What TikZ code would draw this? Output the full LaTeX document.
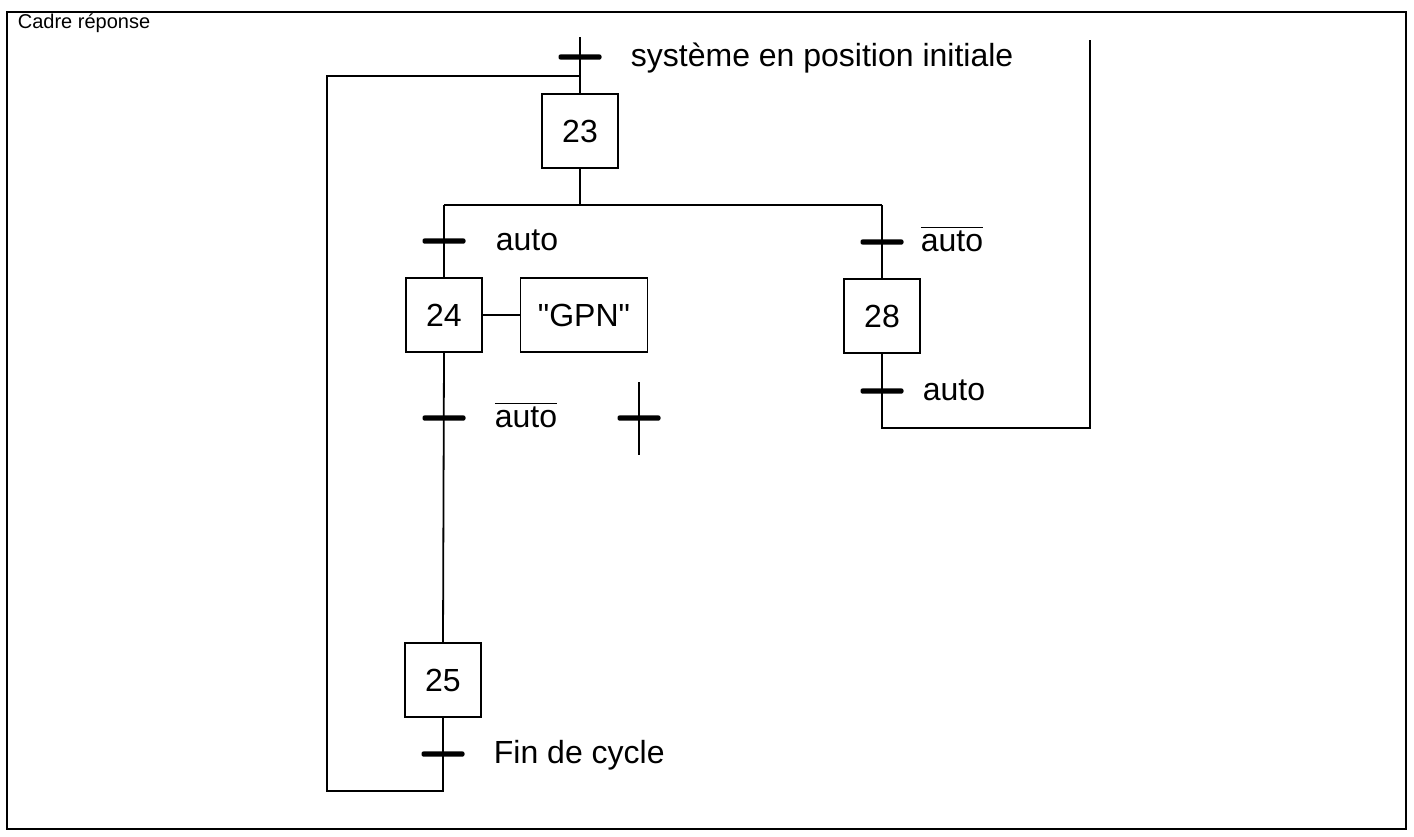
\documentclass[tikz,border=0pt]{standalone}
\usepackage{fontspec}
\setmainfont{Liberation Sans}
\newfontfamily\gpnfont{Liberation Sans}
\usepackage{tikz}

\tikzset{
    etape/.style={draw, line width=0.9pt, minimum width=38pt, minimum height=37pt, inner sep=0pt, font=\fontsize{16}{18}\selectfont},
    action/.style={etape, minimum width=63.5pt},
    transbar/.style={fill=black, rounded corners=1pt, minimum width=21.5pt, minimum height=2.6pt, inner sep=0pt},
    recept/.style={anchor=base west, inner sep=0pt, font=\fontsize{16}{18}\selectfont}
}

\begin{document}
\begin{tikzpicture}[x=0.5pt, y=-0.5pt, line width=0.9pt]
    \useasboundingbox (0, 0) rectangle (1414, 836);
    \draw[line width=0.8pt] (7, 12) rectangle (1406, 829);
    \node[anchor=west, inner sep=0pt, font=\fontsize{10}{12}\selectfont] (cadre) at (17, 23) {Cadre réponse};

    \node[etape] (e23) at (580, 131) {23};
    \node[etape] (e24) at (444, 315) {24};
    \node[action] (gpn) at (584, 315) {\gpnfont "GPN"};
    \node[etape] (e25) at (443, 680) {25};
    \node[etape] (e28) at (882, 316) {28};

    \coordinate (haut) at (580, 37);
    \coordinate (div) at (580, 205);
    \coordinate (entree) at (580, 76);
    \coordinate (retg) at (327, 791);
    \coordinate (retd) at (1090, 428);
    \coordinate (retdhaut) at (1090, 40);
    \coordinate (libreh) at (639, 382);
    \coordinate (libreb) at (639, 455);

    \draw (haut) -- (e23.north);
    \draw (e23.south) -- (div);
    \draw (e24.north |- div) -- (e28.north |- div);
    \draw (e24.north |- div) -- (e24.north);
    \draw (e28.north |- div) -- (e28.north);
    \draw (e24.east) -- (gpn.west);
    \draw (e24.south) -- (e25.north);
    \draw (e25.south) |- (retg) |- (entree);
    \draw (e28.south) |- (retd) -- (retdhaut);
    \draw (libreh) -- (libreb);

    \node[transbar] (t0) at (580, 57) {};
    \node[transbar] (t1) at (444, 241) {};
    \node[transbar] (t2) at (882, 242) {};
    \node[transbar] (t3) at (444, 418) {};
    \node[transbar] (t4) at (882, 391) {};
    \node[transbar] (t5) at (443, 754) {};
    \node[transbar] (tlibre) at (639, 418) {};

    \node[recept] (r0) at (630, 66) {système en position initiale};
    \node[recept] (r1) at (495, 250) {auto};
    \node[recept] (r2) at (920, 251) {$\overline{\mbox{auto}}$};
    \node[recept] (r3) at (494, 427) {$\overline{\mbox{auto}}$};
    \node[recept] (r4) at (922, 400) {auto};
    \node[recept] (r5) at (493, 763) {Fin de cycle};
\end{tikzpicture}
\end{document}
